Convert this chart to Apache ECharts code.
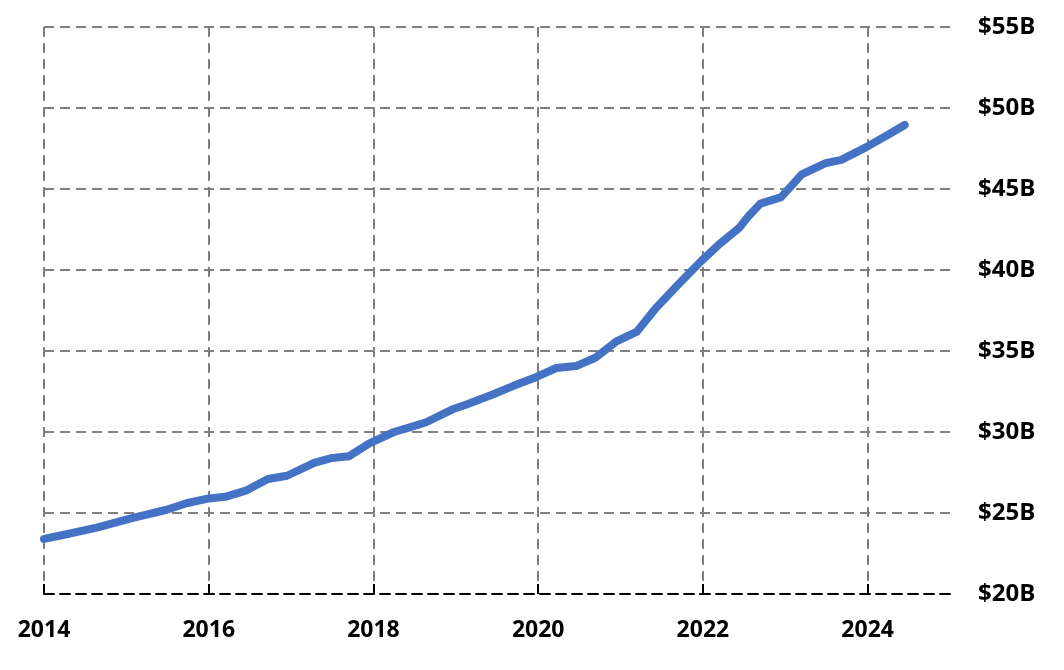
<!DOCTYPE html>
<html><head><meta charset="utf-8">
<script src="https://cdn.jsdelivr.net/npm/echarts@6/dist/echarts.min.js"></script>
<style>html,body{margin:0;padding:0;background:#fff}#c{width:1064px;height:670px}</style>
</head><body><div id="c"></div>
<script>
const years = [2014.00,2014.23,2014.64,2015.08,2015.49,2015.73,2016.00,2016.2,2016.46,2016.72,2016.95,2017.28,2017.5,2017.7,2017.95,2018.25,2018.45,2018.64,2018.96,2019.13,2019.44,2019.7,2019.98,2020.22,2020.46,2020.7,2020.95,2021.2,2021.43,2021.7,2021.99,2022.2,2022.44,2022.55,2022.7,2022.95,2023.2,2023.49,2023.68,2023.99,2024.3,2024.45];
const values = [23.4,23.64,24.1,24.7,25.2,25.6,25.9,26.0,26.4,27.1,27.3,28.1,28.4,28.5,29.3,30.0,30.3,30.6,31.4,31.7,32.3,32.85,33.4,33.95,34.07,34.6,35.6,36.2,37.65,39.1,40.6,41.6,42.6,43.3,44.1,44.5,45.9,46.6,46.8,47.6,48.5,48.95];
const xTicks = [2014,2016,2018,2020,2022,2024];
const yTicks = [20,25,30,35,40,45,50,55];

const chart = echarts.init(document.getElementById('c'));
const font = {fontFamily:'"Open Sans", sans-serif', fontWeight:'bold', color:'#000'};
chart.setOption({
  animation:false,
  grid:{left:44,right:114,top:27,bottom:76},
  xAxis:{type:'value',min:2014,max:2025,interval:2,
    axisLine:{show:true,lineStyle:{color:'#000',width:2,type:[10,6]}},
    axisTick:{show:true,inside:true,length:10,lineStyle:{color:'#000',width:2},customValues:xTicks},
    axisLabel:Object.assign({margin:25,fontSize:23,customValues:xTicks,formatter:v=>String(v)},font),
    splitLine:{show:true,lineStyle:{color:'#808080',width:2,type:[10,6]}}
  },
  yAxis:{type:'value',position:'right',min:20,max:55,interval:5,
    axisLine:{show:false},axisTick:{show:false},
    axisLabel:Object.assign({margin:28,fontSize:24,align:'left',formatter:v=>'$'+v+'B'},font),
    splitLine:{show:true,showMinLine:false,lineStyle:{color:'#808080',width:2,type:[10,6]}}
  },
  series:[{type:'line',data:years.map((y,i)=>[y,values[i]]),showSymbol:false,
    lineStyle:{color:'#4472C4',width:8,cap:'round',join:'round'},itemStyle:{color:'#4472C4'}}]
});
</script></body></html>
